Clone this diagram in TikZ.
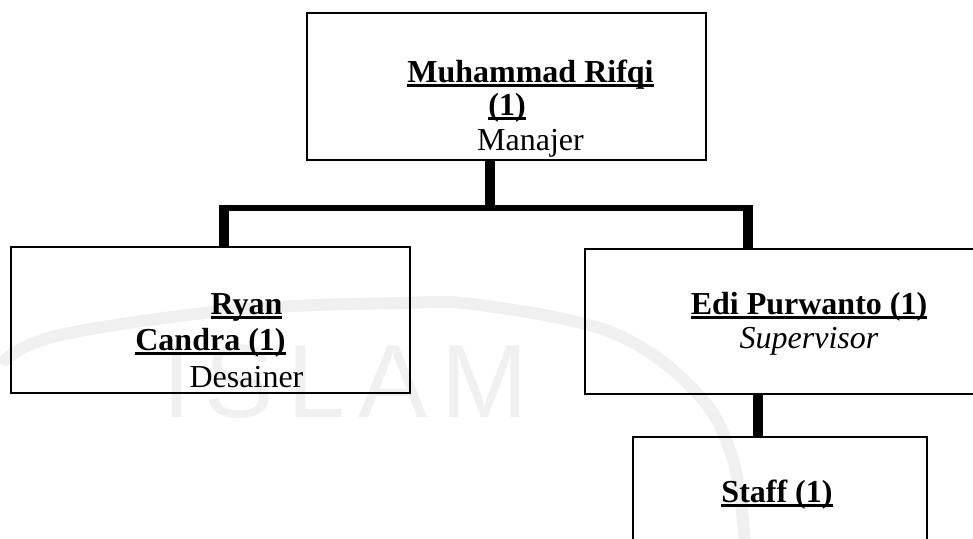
\documentclass[tikz,border=0pt]{standalone}
\usepackage{fontspec}
\setmainfont{Liberation Serif}
\newfontfamily\wmfont[LetterSpace=13]{Liberation Sans}
\newcommand\ulx[1]{\setbox0\hbox{#1}\rlap{\vrule width\wd0 height -0.9pt depth 2.4pt}\box0}
\tikzset{
  box/.style={draw=black, line width=1.1pt, rectangle, inner sep=0pt},
  lbl/.style={inner sep=0pt, anchor=base, font=\fontsize{16pt}{19pt}\selectfont},
  vbar/.style={line width=4.7pt, black},
  hbar/.style={line width=3.2pt, black},
  wm/.style={black!6}
}
\begin{document}
\begin{tikzpicture}[x=0.5pt,y=-0.5pt]
\useasboundingbox (0,0) rectangle (973,538);
\clip (0,0) rectangle (973,538);
% faint watermark
\draw[wm, line width=6pt, line cap=round] plot[smooth, tension=0.6] coordinates
  {(5,360) (60,335) (233,310) (400,303) (480,305) (613,333) (697,393) (733,460) (745,545)};
\node[wm, inner sep=0pt, anchor=base west, font=\wmfont\fontsize{52pt}{52pt}\selectfont] (wmtext) at (162,417) {ISLAM};
% boxes
\node[box, minimum width=199.5pt, minimum height=73.5pt] (mgr) at (506.5,86.5) {};
\node[box, minimum width=199.5pt, minimum height=73pt] (des) at (210.5,320) {};
\node[box, minimum width=199pt, minimum height=72.5pt] (sup) at (784,321.5) {};
\node[box, minimum width=147pt, minimum height=81.5pt] (staff) at (780,518.5) {};
% texts
\node[lbl] (mgr1) at (530.5,82) {\bfseries\ulx{Muhammad Rifqi}};
\node[lbl] (mgr2) at (507,115) {\bfseries\ulx{(1)}};
\node[lbl] (mgr3) at (530.5,150) {Manajer};
\node[lbl] (des1) at (246.5,314) {\bfseries\ulx{Ryan}};
\node[lbl] (des2) at (210.5,350) {\bfseries\ulx{Candra (1)}};
\node[lbl] (des3) at (246.5,387) {Desainer};
\node[lbl] (sup1) at (809,314) {\bfseries\ulx{Edi Purwanto (1)}};
\node[lbl] (sup2) at (809,348) {\itshape Supervisor};
\node[lbl] (staff1) at (777,502) {\bfseries\ulx{Staff (1)}};
% connectors
\coordinate (jm) at (490,208);
\coordinate (jl) at (224,208);
\coordinate (jr) at (748,208);
\coordinate (js) at (758,400);
\draw[vbar, shorten >=-1.6pt] (mgr.south -| jm) -- (jm);
\draw[hbar, shorten <=-2.35pt, shorten >=-2.35pt] (jl) -- (jr);
\draw[vbar, shorten <=-1.6pt] (jl) -- (des.north -| jl);
\draw[vbar, shorten <=-1.6pt] (jr) -- (sup.north -| jr);
\draw[vbar] (sup.south -| js) -- (staff.north -| js);
\end{tikzpicture}
\end{document}
